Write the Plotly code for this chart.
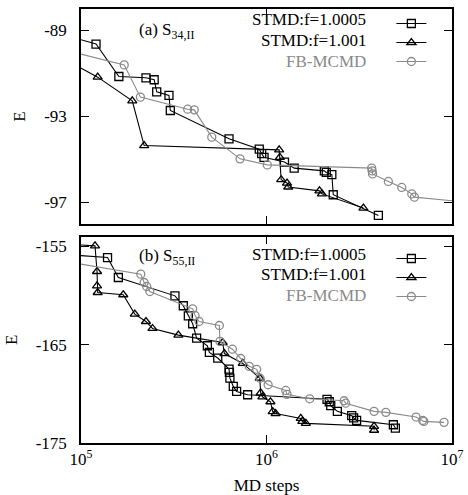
import plotly.graph_objects as go

# ---------------- data ----------------
series_names = ["STMD:f=1.0005", "STMD:f=1.001", "FB-MCMD"]

# panel (a) S34,II
a_sq_x = [9.0e4, 1.205e5, 1.60e5, 2.24e5, 2.48e5, 2.56e5, 2.98e5, 3.03e5, 6.28e5, 9.14e5,
          9.42e5, 9.7e5, 1.25e6, 1.41e6, 2.05e6, 2.10e6, 2.25e6, 2.29e6, 4.01e6]
a_sq_y = [-89.32, -89.63, -91.14, -91.20, -91.29, -91.85, -92.02, -92.72, -94.04, -94.52,
          -94.73, -94.90, -95.12, -95.40, -95.53, -95.60, -95.70, -96.64, -97.60]

a_tr_x = [9.0e4, 1.23e5, 1.89e5, 2.19e5, 1.17e6, 1.18e6, 1.20e6, 1.29e6, 1.31e6, 1.93e6,
          1.99e6, 3.33e6]
a_tr_y = [-90.53, -91.17, -92.27, -94.35, -94.55, -94.90, -95.94, -96.10, -96.28, -96.46,
          -96.60, -97.26]

a_ci_x = [9.0e4, 1.71e5, 2.09e5, 3.76e5, 4.08e5, 5.07e5, 7.20e5, 1.01e6, 3.69e6, 3.71e6,
          3.73e6, 4.54e6, 5.36e6, 6.07e6, 6.27e6, 1.1e7]
a_ci_y = [-90.00, -90.60, -92.10, -92.66, -92.69, -93.96, -94.97, -95.25, -95.40, -95.53,
          -95.67, -96.02, -96.30, -96.60, -96.75, -96.95]

# panel (b) S55,II
b_sq_x = [9.0e4, 1.39e5, 1.59e5, 3.21e5, 3.56e5, 3.79e5, 4.00e5, 4.20e5, 4.80e5, 4.92e5,
          5.46e5, 6.28e5, 6.31e5, 6.35e5, 6.62e5, 6.90e5, 7.91e5, 2.12e6, 2.18e6, 2.22e6,
          2.41e6, 2.88e6, 2.95e6, 3.06e6, 4.83e6, 4.95e6]
b_sq_y = [-155.86, -156.12, -158.15, -160.02, -161.03, -162.05, -162.86, -164.32, -165.10, -165.78,
          -166.35, -167.47, -167.80, -168.40, -169.24, -169.75, -170.09, -170.55, -170.80, -171.20,
          -171.78, -172.22, -172.45, -172.70, -173.14, -173.48]

b_tr_x = [9.0e4, 1.19e5, 1.22e5, 1.22e5, 1.23e5, 1.69e5, 1.95e5, 2.24e5, 2.43e5, 3.35e5,
          5.80e5, 5.93e5, 7.45e5, 9.2e5, 9.3e5, 9.5e5, 1.05e6, 1.08e6, 1.12e6, 1.53e6,
          1.56e6, 1.63e6, 3.80e6, 3.80e6]
b_tr_y = [-154.80, -154.93, -157.54, -159.00, -159.68, -159.91, -161.88, -162.63, -163.34, -164.02,
          -164.77, -165.90, -166.90, -168.40, -169.90, -170.30, -170.80, -171.80, -172.00, -172.50,
          -172.80, -173.00, -173.30, -173.70]

b_ci_x = [9.0e4, 2.10e5, 2.19e5, 2.26e5, 2.35e5, 4.00e5, 4.12e5, 4.33e5, 5.57e5, 5.61e5,
          6.55e5, 7.26e5, 8.07e5, 8.85e5, 9.23e5, 1.02e6, 1.27e6, 1.29e6, 1.71e6, 2.62e6,
          2.67e6, 3.80e6, 4.40e6, 6.40e6, 6.95e6, 7.05e6, 9.06e6]
b_ci_y = [-156.65, -157.81, -158.66, -159.07, -159.58, -161.34, -162.02, -162.63, -163.04, -164.66,
          -165.45, -166.40, -167.20, -167.50, -168.40, -169.07, -169.65, -170.05, -170.50, -170.70,
          -170.95, -171.78, -171.88, -172.36, -172.70, -172.80, -172.90]

x_tickvals = [1e5, 1e6, 1e7]
x_ticktext = ["10<sup>5</sup>", "10<sup>6</sup>", "10<sup>7</sup>"]
a_yticks = [-89, -93, -97]
b_yticks = [-155, -165, -175]
a_yrange = [-98, -88]
b_yrange = [-175, -154]

# ---------------- style ----------------
FONT = "Liberation Serif"
BLACK = "#000000"
GRAY = "#8a8a8a"
styles = [
    dict(color=BLACK, symbol="square-open"),
    dict(color=BLACK, symbol="triangle-up-open"),
    dict(color=GRAY, symbol="circle-open"),
]

fig = go.Figure()

panels = [
    ("x", "y", "legend", [(a_sq_x, a_sq_y), (a_tr_x, a_tr_y), (a_ci_x, a_ci_y)]),
    ("x2", "y2", "legend2", [(b_sq_x, b_sq_y), (b_tr_x, b_tr_y), (b_ci_x, b_ci_y)]),
]
for xa, ya, lg, data in panels:
    for (xs, ys), st, nm in zip(data, styles, series_names):
        fig.add_trace(go.Scatter(
            x=xs, y=ys, xaxis=xa, yaxis=ya, mode="lines+markers", name="",
            legend=lg, showlegend=True,
            line=dict(color=st["color"], width=1.1),
            marker=dict(symbol=st["symbol"], size=8, color=st["color"],
                        line=dict(width=1.3, color=st["color"])),
            cliponaxis=True, hoverinfo="skip",
        ))

axis_common = dict(showline=True, linecolor=BLACK, linewidth=1.5, mirror="ticks",
                   ticks="inside", ticklen=8, tickwidth=1.2, tickcolor=BLACK,
                   showgrid=False, zeroline=False, automargin=False,
                   tickfont=dict(family=FONT, size=17, color=BLACK))

fig.update_layout(
    width=468, height=495,
    margin=dict(l=81, r=16, t=9, b=52),
    paper_bgcolor="white", plot_bgcolor="white",
    font=dict(family=FONT, size=17, color=BLACK),
    xaxis=dict(type="log", range=[5, 7], domain=[0, 1], anchor="y",
               tickvals=x_tickvals, ticktext=x_ticktext, showticklabels=False, **axis_common),
    yaxis=dict(range=a_yrange, domain=[0.5046, 1], anchor="x",
               tickvals=a_yticks, ticktext=[str(v) for v in a_yticks],
               ticklabelstandoff=9,
               title=dict(text="E", standoff=14, font=dict(family=FONT, size=17)),
               **axis_common),
    xaxis2=dict(type="log", range=[5, 7], domain=[0, 1], anchor="y2",
                tickvals=x_tickvals, ticktext=x_ticktext,
                title=dict(text="MD steps", standoff=15, font=dict(family=FONT, size=17)),
                **axis_common),
    yaxis2=dict(range=b_yrange, domain=[0, 0.4753], anchor="x2",
                tickvals=b_yticks, ticktext=[str(v) for v in b_yticks],
                ticklabelstandoff=9,
                title=dict(text="E", standoff=14, font=dict(family=FONT, size=17)),
                **axis_common),
    legend=dict(x=0.8366, y=1.0, xanchor="left", yanchor="top", bgcolor="rgba(0,0,0,0)",
                font=dict(size=12), tracegroupgap=0),
    legend2=dict(x=0.8366, y=0.4585, xanchor="left", yanchor="top", bgcolor="rgba(0,0,0,0)",
                 font=dict(size=12), tracegroupgap=0),
    showlegend=True,
)

def py2paper(py):
    return 1 - (py - 9) / 434.0

leg_rows = [([19, 40.5, 62]), ([254, 274.5, 295])]
text_colors = [BLACK, BLACK, GRAY]
for rows in leg_rows:
    for py, nm, col in zip(rows, series_names, text_colors):
        fig.add_annotation(x=(368 - 81) / 371.0, y=py2paper(py), xref="paper", yref="paper",
                           text=nm, showarrow=False, xanchor="right", yanchor="middle",
                           font=dict(family=FONT, size=17, color=col))

fig.add_annotation(x=(137 - 81) / 371.0, y=py2paper(31), xref="paper", yref="paper",
                   text="(a) S<sub>34,II</sub>", showarrow=False, xanchor="left", yanchor="middle",
                   font=dict(family=FONT, size=17, color=BLACK))
fig.add_annotation(x=(137 - 81) / 371.0, y=py2paper(257), xref="paper", yref="paper",
                   text="(b) S<sub>55,II</sub>", showarrow=False, xanchor="left", yanchor="middle",
                   font=dict(family=FONT, size=17, color=BLACK))

fig.write_html("out.html")
